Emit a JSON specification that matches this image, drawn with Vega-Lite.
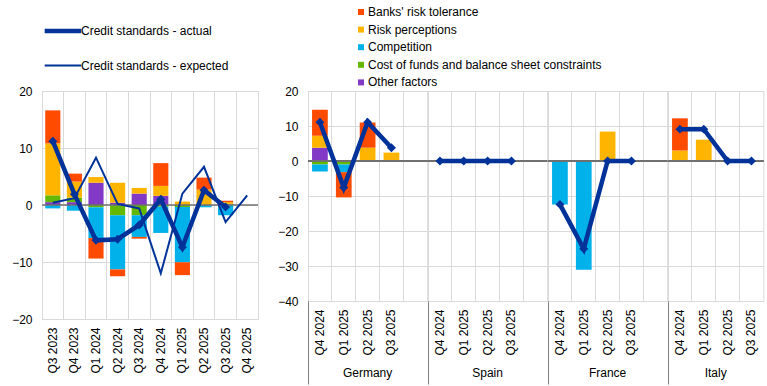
{
  "$schema": "https://vega.github.io/schema/vega-lite/v6.json",
  "background": "white",
  "padding": {"left": 11, "top": 6, "right": 4, "bottom": 0},
  "bounds": "flush",
  "spacing": 50,
  "config": {
    "font": "Liberation Sans",
    "view": {"stroke": "#d9d9d9"},
    "axis": {"labelFont": "Liberation Sans", "labelFontSize": 12, "labelColor": "#000000", "gridColor": "#d9d9d9", "domain": false, "ticks": false, "title": null},
    "legend": {"labelFont": "Liberation Sans", "labelFontSize": 12, "labelColor": "#000000", "title": null, "labelLimit": 400},
    "header": {"labelFont": "Liberation Sans", "labelFontSize": 12, "labelColor": "#000000"}
  },
  "datasets": {
    "factors": [
      {"factor": "Banks' risk tolerance", "rank": 1},
      {"factor": "Risk perceptions", "rank": 2},
      {"factor": "Competition", "rank": 3},
      {"factor": "Cost of funds and balance sheet constraints", "rank": 4},
      {"factor": "Other factors", "rank": 5}
    ],
    "ea_bars": [
      {"quarter": "Q3 2023", "factor": "Other factors", "value": 0.5},
      {"quarter": "Q3 2023", "factor": "Cost of funds and balance sheet constraints", "value": 1.2},
      {"quarter": "Q3 2023", "factor": "Competition", "value": -0.6},
      {"quarter": "Q3 2023", "factor": "Risk perceptions", "value": 9.1},
      {"quarter": "Q3 2023", "factor": "Banks' risk tolerance", "value": 5.8},
      {"quarter": "Q4 2023", "factor": "Other factors", "value": 0.5},
      {"quarter": "Q4 2023", "factor": "Cost of funds and balance sheet constraints", "value": 0.8},
      {"quarter": "Q4 2023", "factor": "Competition", "value": -1.0},
      {"quarter": "Q4 2023", "factor": "Risk perceptions", "value": 2.8},
      {"quarter": "Q4 2023", "factor": "Banks' risk tolerance", "value": 1.4},
      {"quarter": "Q1 2024", "factor": "Other factors", "value": 3.9},
      {"quarter": "Q1 2024", "factor": "Cost of funds and balance sheet constraints", "value": -0.4},
      {"quarter": "Q1 2024", "factor": "Competition", "value": -5.4},
      {"quarter": "Q1 2024", "factor": "Risk perceptions", "value": 1.0},
      {"quarter": "Q1 2024", "factor": "Banks' risk tolerance", "value": -3.6},
      {"quarter": "Q2 2024", "factor": "Other factors", "value": 0.4},
      {"quarter": "Q2 2024", "factor": "Cost of funds and balance sheet constraints", "value": -1.8},
      {"quarter": "Q2 2024", "factor": "Competition", "value": -9.5},
      {"quarter": "Q2 2024", "factor": "Risk perceptions", "value": 3.5},
      {"quarter": "Q2 2024", "factor": "Banks' risk tolerance", "value": -1.2},
      {"quarter": "Q3 2024", "factor": "Other factors", "value": 2.0},
      {"quarter": "Q3 2024", "factor": "Cost of funds and balance sheet constraints", "value": -1.8},
      {"quarter": "Q3 2024", "factor": "Competition", "value": -3.8},
      {"quarter": "Q3 2024", "factor": "Risk perceptions", "value": 1.0},
      {"quarter": "Q3 2024", "factor": "Banks' risk tolerance", "value": -0.3},
      {"quarter": "Q4 2024", "factor": "Other factors", "value": 1.6},
      {"quarter": "Q4 2024", "factor": "Cost of funds and balance sheet constraints", "value": -0.3},
      {"quarter": "Q4 2024", "factor": "Competition", "value": -4.6},
      {"quarter": "Q4 2024", "factor": "Risk perceptions", "value": 1.75},
      {"quarter": "Q4 2024", "factor": "Banks' risk tolerance", "value": 4.0},
      {"quarter": "Q1 2025", "factor": "Cost of funds and balance sheet constraints", "value": -0.35},
      {"quarter": "Q1 2025", "factor": "Competition", "value": -9.7},
      {"quarter": "Q1 2025", "factor": "Risk perceptions", "value": 0.6},
      {"quarter": "Q1 2025", "factor": "Banks' risk tolerance", "value": -2.25},
      {"quarter": "Q2 2025", "factor": "Competition", "value": -0.4},
      {"quarter": "Q2 2025", "factor": "Risk perceptions", "value": 2.7},
      {"quarter": "Q2 2025", "factor": "Banks' risk tolerance", "value": 2.1},
      {"quarter": "Q3 2025", "factor": "Other factors", "value": 0.1},
      {"quarter": "Q3 2025", "factor": "Cost of funds and balance sheet constraints", "value": 0.1},
      {"quarter": "Q3 2025", "factor": "Competition", "value": -1.8},
      {"quarter": "Q3 2025", "factor": "Risk perceptions", "value": 0.3},
      {"quarter": "Q3 2025", "factor": "Banks' risk tolerance", "value": 0.25}
    ],
    "ea_lines": [
      {"quarter": "Q3 2023", "series": "Credit standards - actual", "v": 11.2},
      {"quarter": "Q4 2023", "series": "Credit standards - actual", "v": 1.9},
      {"quarter": "Q1 2024", "series": "Credit standards - actual", "v": -6.2},
      {"quarter": "Q2 2024", "series": "Credit standards - actual", "v": -6.0},
      {"quarter": "Q3 2024", "series": "Credit standards - actual", "v": -3.5},
      {"quarter": "Q4 2024", "series": "Credit standards - actual", "v": 1.0},
      {"quarter": "Q1 2025", "series": "Credit standards - actual", "v": -7.4},
      {"quarter": "Q2 2025", "series": "Credit standards - actual", "v": 2.6},
      {"quarter": "Q3 2025", "series": "Credit standards - actual", "v": -0.35},
      {"quarter": "Q3 2023", "series": "Credit standards - expected", "v": 0.4},
      {"quarter": "Q4 2023", "series": "Credit standards - expected", "v": 1.2},
      {"quarter": "Q1 2024", "series": "Credit standards - expected", "v": 8.3},
      {"quarter": "Q2 2024", "series": "Credit standards - expected", "v": 0.2},
      {"quarter": "Q3 2024", "series": "Credit standards - expected", "v": -0.6},
      {"quarter": "Q4 2024", "series": "Credit standards - expected", "v": -12.0},
      {"quarter": "Q1 2025", "series": "Credit standards - expected", "v": 2.0},
      {"quarter": "Q2 2025", "series": "Credit standards - expected", "v": 6.7},
      {"quarter": "Q3 2025", "series": "Credit standards - expected", "v": -3.0},
      {"quarter": "Q4 2025", "series": "Credit standards - expected", "v": 1.7}
    ],
    "countries": [
      {"country": "Germany", "quarter": "Q4 2024", "factor": "Other factors", "value": 3.8},
      {"country": "Germany", "quarter": "Q4 2024", "factor": "Cost of funds and balance sheet constraints", "value": -1.0},
      {"country": "Germany", "quarter": "Q4 2024", "factor": "Competition", "value": -2.0},
      {"country": "Germany", "quarter": "Q4 2024", "factor": "Risk perceptions", "value": 3.45},
      {"country": "Germany", "quarter": "Q4 2024", "factor": "Banks' risk tolerance", "value": 7.4},
      {"country": "Germany", "quarter": "Q1 2025", "factor": "Cost of funds and balance sheet constraints", "value": -1.0},
      {"country": "Germany", "quarter": "Q1 2025", "factor": "Competition", "value": -2.2},
      {"country": "Germany", "quarter": "Q1 2025", "factor": "Banks' risk tolerance", "value": -7.2},
      {"country": "Germany", "quarter": "Q2 2025", "factor": "Risk perceptions", "value": 3.8},
      {"country": "Germany", "quarter": "Q2 2025", "factor": "Banks' risk tolerance", "value": 7.2},
      {"country": "Germany", "quarter": "Q3 2025", "factor": "Risk perceptions", "value": 2.4},
      {"country": "Germany", "quarter": " ", "factor": "Other factors", "value": 0},
      {"country": "Spain", "quarter": " ", "factor": "Other factors", "value": 0},
      {"country": "France", "quarter": "Q4 2024", "factor": "Competition", "value": -12.4},
      {"country": "France", "quarter": "Q1 2025", "factor": "Competition", "value": -31.1},
      {"country": "France", "quarter": "Q2 2025", "factor": "Risk perceptions", "value": 8.4},
      {"country": "France", "quarter": " ", "factor": "Other factors", "value": 0},
      {"country": "Italy", "quarter": "Q4 2024", "factor": "Risk perceptions", "value": 3.0},
      {"country": "Italy", "quarter": "Q4 2024", "factor": "Banks' risk tolerance", "value": 9.2},
      {"country": "Italy", "quarter": "Q1 2025", "factor": "Risk perceptions", "value": 6.1},
      {"country": "Germany", "quarter": "Q4 2024", "actual": 11.1},
      {"country": "Germany", "quarter": "Q1 2025", "actual": -7.6},
      {"country": "Germany", "quarter": "Q2 2025", "actual": 11.1},
      {"country": "Germany", "quarter": "Q3 2025", "actual": 3.8},
      {"country": "Spain", "quarter": "Q4 2024", "actual": 0},
      {"country": "Spain", "quarter": "Q1 2025", "actual": 0},
      {"country": "Spain", "quarter": "Q2 2025", "actual": 0},
      {"country": "Spain", "quarter": "Q3 2025", "actual": 0},
      {"country": "France", "quarter": "Q4 2024", "actual": -12.4},
      {"country": "France", "quarter": "Q1 2025", "actual": -25.1},
      {"country": "France", "quarter": "Q2 2025", "actual": 0},
      {"country": "France", "quarter": "Q3 2025", "actual": 0},
      {"country": "Italy", "quarter": "Q4 2024", "actual": 9.1},
      {"country": "Italy", "quarter": "Q1 2025", "actual": 9.1},
      {"country": "Italy", "quarter": "Q2 2025", "actual": 0},
      {"country": "Italy", "quarter": "Q3 2025", "actual": 0}
    ]
  },
  "resolve": {"scale": {"x": "independent", "y": "independent"}},
  "hconcat": [
    {
      "width": 216,
      "height": 228,
      "layer": [
        {
          "data": {"name": "ea_bars"},
          "transform": [{"lookup": "factor", "from": {"data": {"name": "factors"}, "key": "factor", "fields": ["rank"]}}],
          "mark": {"type": "bar", "width": {"band": 0.7}},
          "encoding": {
            "x": {"field": "quarter", "type": "nominal", "title": null,
              "scale": {"domain": ["Q3 2023", "Q4 2023", "Q1 2024", "Q2 2024", "Q3 2024", "Q4 2024", "Q1 2025", "Q2 2025", "Q3 2025", "Q4 2025"], "paddingInner": 0, "paddingOuter": 0},
              "axis": {"labelAngle": -90, "bandPosition": 0, "grid": true, "ticks": false, "labelPadding": 8}},
            "y": {"field": "value", "type": "quantitative", "title": null,
              "scale": {"domain": [-20, 20], "nice": false},
              "axis": {"values": [-20, -10, 0, 10, 20], "tickCount": 5, "grid": true, "labelPadding": 10}},
            "order": {"field": "rank", "type": "quantitative", "sort": "descending"},
            "color": {"field": "factor", "type": "nominal",
              "sort": ["Banks' risk tolerance", "Risk perceptions", "Competition", "Cost of funds and balance sheet constraints", "Other factors"],
              "scale": {"range": ["#ff4b00", "#ffb400", "#00b1ea", "#65b800", "#8139c6"]},
              "legend": {"orient": "none", "legendX": 313, "legendY": -85, "symbolType": "square", "symbolSize": 36, "rowPadding": 5.6, "labelOffset": 1}}
          }
        },
        {
          "data": {"values": [{}]},
          "mark": {"type": "rule", "color": "#707070", "strokeWidth": 1.3},
          "encoding": {"y": {"datum": 0}}
        },
        {
          "data": {"name": "ea_lines"},
          "mark": {"type": "line", "color": "#003299"},
          "encoding": {
            "x": {"field": "quarter", "type": "nominal"},
            "y": {"field": "v", "type": "quantitative", "title": null},
            "order": {"value": null},
            "strokeWidth": {"field": "series", "type": "ordinal", "scale": {"domain": ["Credit standards - actual", "Credit standards - expected"], "range": [4.5, 2]},
              "legend": {"orient": "none", "legendX": 0, "legendY": -81, "symbolType": "stroke", "symbolSize": 1344, "symbolStrokeColor": "#003299", "rowPadding": 6, "labelOffset": -3}}
          }
        },
        {
          "data": {"name": "ea_lines"},
          "transform": [{"filter": "datum.series === 'Credit standards - actual'"}],
          "mark": {"type": "point", "shape": "diamond", "filled": true, "size": 80, "color": "#003299", "opacity": 1},
          "encoding": {
            "x": {"field": "quarter", "type": "nominal"},
            "y": {"field": "v", "type": "quantitative", "title": null}
          }
        }
      ]
    },
    {
      "data": {"name": "countries"},
      "transform": [{"lookup": "factor", "from": {"data": {"name": "factors"}, "key": "factor", "fields": ["rank"]}}],
      "bounds": "flush",
      "spacing": 0,
      "facet": {
        "column": {"field": "country", "type": "nominal", "sort": ["Germany", "Spain", "France", "Italy"], "title": null,
          "header": {"orient": "bottom", "labelPadding": 67}}
      },
      "resolve": {"scale": {"x": "independent"}},
      "spec": {
        "width": {"step": 23.84},
        "height": 210,
        "layer": [
          {
            "transform": [{"filter": "isValid(datum.value)"}],
            "mark": {"type": "bar", "width": {"band": 0.66}},
            "encoding": {
              "x": {"field": "quarter", "type": "nominal", "title": null,
                "sort": ["Q4 2024", "Q1 2025", "Q2 2025", "Q3 2025", " "],
                "scale": {"paddingInner": 0, "paddingOuter": 0},
                "axis": {"labelAngle": -90, "bandPosition": 0, "grid": true, "ticks": true, "tickSize": 83,
                  "tickColor": {"condition": {"test": "datum.index === 0", "value": "#808080"}, "value": "transparent"},
                  "labelPadding": -75}},
              "y": {"field": "value", "type": "quantitative", "title": null,
                "scale": {"domain": [-40, 20], "nice": false},
                "axis": {"values": [-40, -30, -20, -10, 0, 10, 20], "tickCount": 7, "grid": true, "labelPadding": 10}},
              "order": {"field": "rank", "type": "quantitative", "sort": "descending"},
              "color": {"field": "factor", "type": "nominal",
                "sort": ["Banks' risk tolerance", "Risk perceptions", "Competition", "Cost of funds and balance sheet constraints", "Other factors"]}
            }
          },
          {
            "mark": {"type": "rule", "color": "#707070", "strokeWidth": 1.3},
            "encoding": {"y": {"datum": 0}}
          },
          {
            "transform": [{"filter": "isValid(datum.actual)"}],
            "mark": {"type": "line", "color": "#003299", "strokeWidth": 4.5},
            "encoding": {
              "x": {"field": "quarter", "type": "nominal", "sort": ["Q4 2024", "Q1 2025", "Q2 2025", "Q3 2025", " "]},
              "y": {"field": "actual", "type": "quantitative", "title": null,
                "axis": {"values": [-40, -30, -20, -10, 0, 10, 20], "tickCount": 7, "grid": true, "labelPadding": 10}},
              "order": {"value": null}
            }
          },
          {
            "transform": [{"filter": "isValid(datum.actual)"}],
            "mark": {"type": "point", "shape": "diamond", "filled": true, "size": 80, "color": "#003299", "opacity": 1},
            "encoding": {
              "x": {"field": "quarter", "type": "nominal", "sort": ["Q4 2024", "Q1 2025", "Q2 2025", "Q3 2025", " "]},
              "y": {"field": "actual", "type": "quantitative", "title": null,
                "axis": {"values": [-40, -30, -20, -10, 0, 10, 20], "tickCount": 7, "grid": true, "labelPadding": 10}}
            }
          }
        ]
      }
    }
  ]
}
